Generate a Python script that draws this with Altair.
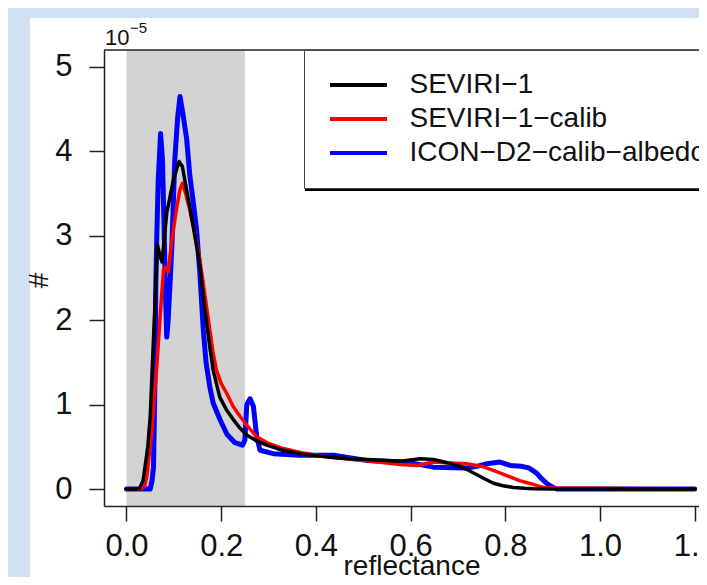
import altair as alt
import pandas as pd

# ---- data ----
series_names = ["SEVIRI−1", "SEVIRI−1−calib", "ICON−D2−calib−albedo"]
series_colors = ["#000000", "#ff0000", "#0000ff"]

seviri_x = [0.0, 0.02, 0.028, 0.035, 0.039, 0.045, 0.05, 0.056, 0.062, 0.065, 0.070, 0.075,
            0.085, 0.099, 0.111, 0.118, 0.127, 0.141, 0.155, 0.165, 0.176, 0.183, 0.19, 0.197,
            0.212, 0.226, 0.24, 0.254, 0.275, 0.296, 0.33, 0.366, 0.4, 0.437, 0.47, 0.507,
            0.55, 0.578, 0.6, 0.62, 0.648, 0.68, 0.704, 0.72, 0.74, 0.757, 0.775, 0.795,
            0.817, 0.84, 0.86, 0.9, 1.0, 1.1, 1.2]
seviri_y = [0.0, 0.0, 0.01, 0.1, 0.26, 0.5, 0.85, 1.65, 2.44, 2.9, 2.78, 2.69,
            3.27, 3.66, 3.88, 3.82, 3.54, 3.11, 2.65, 2.15, 1.68, 1.41, 1.25, 1.09,
            0.93, 0.82, 0.72, 0.64, 0.57, 0.52, 0.46, 0.42, 0.395, 0.375, 0.36, 0.35,
            0.34, 0.33, 0.345, 0.36, 0.35, 0.31, 0.27, 0.23, 0.17, 0.12, 0.07, 0.04,
            0.02, 0.01, 0.005, 0.0, 0.0, 0.0, 0.0]

calib_x = [0.0, 0.03, 0.038, 0.043, 0.053, 0.064, 0.071, 0.078, 0.082, 0.088, 0.095, 0.105,
           0.113, 0.118, 0.125, 0.134, 0.145, 0.155, 0.168, 0.183, 0.19, 0.2, 0.212, 0.225,
           0.24, 0.255, 0.275, 0.3, 0.331, 0.37, 0.44, 0.5, 0.55, 0.578, 0.613, 0.648,
           0.68, 0.718, 0.754, 0.78, 0.81, 0.83, 0.852, 0.87, 0.887, 0.9, 1.0, 1.1, 1.2]
calib_y = [0.0, 0.0, 0.03, 0.15, 0.66, 1.45, 2.04, 2.59, 2.63, 2.57, 2.91, 3.3,
           3.55, 3.62, 3.5, 3.3, 3.0, 2.71, 2.2, 1.61, 1.41, 1.25, 1.13, 0.98,
           0.86, 0.75, 0.62, 0.54, 0.48, 0.43, 0.37, 0.34, 0.31, 0.29, 0.28, 0.32,
           0.31, 0.30, 0.264, 0.21, 0.146, 0.1, 0.067, 0.035, 0.015, 0.012, 0.01, 0.005, 0.0]

icon_x = [0.0, 0.04, 0.05, 0.054, 0.057, 0.06, 0.062, 0.064, 0.067, 0.072, 0.076, 0.079,
          0.082, 0.085, 0.088, 0.092, 0.096, 0.102, 0.108, 0.113, 0.119, 0.127, 0.134,
          0.141, 0.148, 0.155, 0.162, 0.168, 0.176, 0.183, 0.197, 0.212, 0.229, 0.245,
          0.25, 0.254, 0.261, 0.268, 0.275, 0.282, 0.31, 0.366, 0.437, 0.507, 0.55, 0.592,
          0.62, 0.648, 0.718, 0.74, 0.761, 0.789, 0.81, 0.835, 0.85, 0.866, 0.877, 0.887,
          0.9, 0.91, 1.0, 1.1, 1.2]
icon_y = [0.0, 0.0, 0.0, 0.1, 0.26, 1.25, 2.44, 3.0, 3.66, 4.21, 3.9, 3.2,
          2.4, 1.8, 2.0, 2.44, 2.9, 3.9, 4.4, 4.65, 4.45, 4.15, 3.7,
          3.4, 3.07, 2.55, 1.9, 1.5, 1.21, 1.02, 0.83, 0.65, 0.55, 0.52,
          0.58, 1.0, 1.07, 0.98, 0.62, 0.46, 0.42, 0.40, 0.40, 0.34, 0.33, 0.32,
          0.29, 0.26, 0.25, 0.27, 0.30, 0.32, 0.28, 0.27, 0.25, 0.19, 0.12, 0.07,
          0.02, 0.0, 0.0, 0.0, 0.0]

shade_range = [0.0, 0.25]
x_ticks = [0.0, 0.2, 0.4, 0.6, 0.8, 1.0, 1.2]
y_ticks = [0, 1, 2, 3, 4, 5]
x_domain = [-0.0475, 1.209]
y_domain = [-0.2, 5.2]

FONT = "Liberation Sans"
AX = "#222222"

def frame(name, xs, ys):
    return pd.DataFrame({"x": xs, "y": ys, "series": name})

df_seviri = frame(series_names[0], seviri_x, seviri_y)
df_calib = frame(series_names[1], calib_x, calib_y)
df_icon = frame(series_names[2], icon_x, icon_y)
shade_df = pd.DataFrame({"x": [shade_range[0]], "x2": [shade_range[1]]})
one = pd.DataFrame({"a": [0]})

x_scale = alt.Scale(domain=x_domain, nice=False, zero=False)
y_scale = alt.Scale(domain=y_domain, nice=False, zero=False)

x_axis = alt.Axis(values=x_ticks, format=".1f", labelFlush=False, labelOverlap=False,
                  grid=False, tickSize=15, labelPadding=10, labelFontSize=31,
                  titleFontSize=28, titleFontWeight="normal", titleX=307.5, titleY=68,
                  titleBaseline="alphabetic", titleAlign="center", zindex=1)
y_axis = alt.Axis(values=y_ticks, format="d", grid=False, tickSize=15, labelPadding=17,
                  labelFontSize=31, titleFontSize=28, titleFontWeight="normal",
                  titleAngle=270, titleX=-57, titleY=230, titleAlign="center",
                  titleBaseline="alphabetic", zindex=1)

x_enc = alt.X("x:Q", scale=x_scale, axis=x_axis, title="reflectance")
y_enc = alt.Y("y:Q", scale=y_scale, axis=y_axis, title="#")

legend = alt.Legend(title=None, orient="none", legendX=200, legendY=0,
                    symbolType="M-3,0L3,0", symbolSize=361, symbolStrokeWidth=4,
                    symbolOffset=19.5, labelOffset=37, labelFontSize=28, labelLimit=0,
                    rowPadding=6, padding=21, fillColor="white", strokeColor="#444444")
color_enc = alt.Color("series:N", scale=alt.Scale(domain=series_names, range=series_colors),
                      legend=legend)

panel = alt.Chart(one).mark_rect(color="white").encode(
    x=alt.value(-74), x2=alt.value(700), y=alt.value(-32), y2=alt.value(540))

shade = alt.Chart(shade_df).mark_rect(color="#d3d3d3").encode(
    x=x_enc, x2="x2:Q", y=alt.value(0), y2=alt.value(456))

top_border = alt.Chart(one).mark_rule(color=AX, strokeWidth=1.5).encode(
    x=alt.value(0), x2=alt.value(700), y=alt.value(0))

def line_layer(df, w):
    return alt.Chart(df).mark_line(strokeWidth=w, strokeJoin="round", strokeCap="round").encode(
        x=x_enc, y=y_enc, color=color_enc)

shadow = alt.Chart(one).mark_rect(color="black").encode(
    x=alt.value(201), x2=alt.value(700), y=alt.value(135), y2=alt.value(141))

exp_base = alt.Chart(one).mark_text(align="left", baseline="alphabetic", fontSize=22,
                                    color="#111111").encode(
    x=alt.value(1), y=alt.value(-5), text=alt.value("10"))
exp_sup = alt.Chart(one).mark_text(align="left", baseline="alphabetic", fontSize=15,
                                   color="#111111").encode(
    x=alt.value(26), y=alt.value(-17), text=alt.value("−5"))

chart = alt.layer(
    panel, shade, top_border,
    line_layer(df_icon, 5), line_layer(df_calib, 3.5), line_layer(df_seviri, 3.5),
    shadow, exp_base, exp_sup
).properties(
    width=595, height=456,
    autosize=alt.AutoSizeParams(type="none"),
    padding={"left": 96, "top": 42, "right": 0, "bottom": 71},
    background="#d2e0f4"
).configure(font=FONT).configure_view(stroke="transparent").configure_axis(
    domainColor=AX, domainWidth=1.5, tickColor=AX, tickWidth=1.5,
    labelColor="#111111", titleColor="#111111", labelFont=FONT, titleFont=FONT
).configure_legend(strokeWidth=1, labelColor="#111111", labelFont=FONT)

chart.save("out.html", embed_options={"renderer": "svg", "actions": False})
